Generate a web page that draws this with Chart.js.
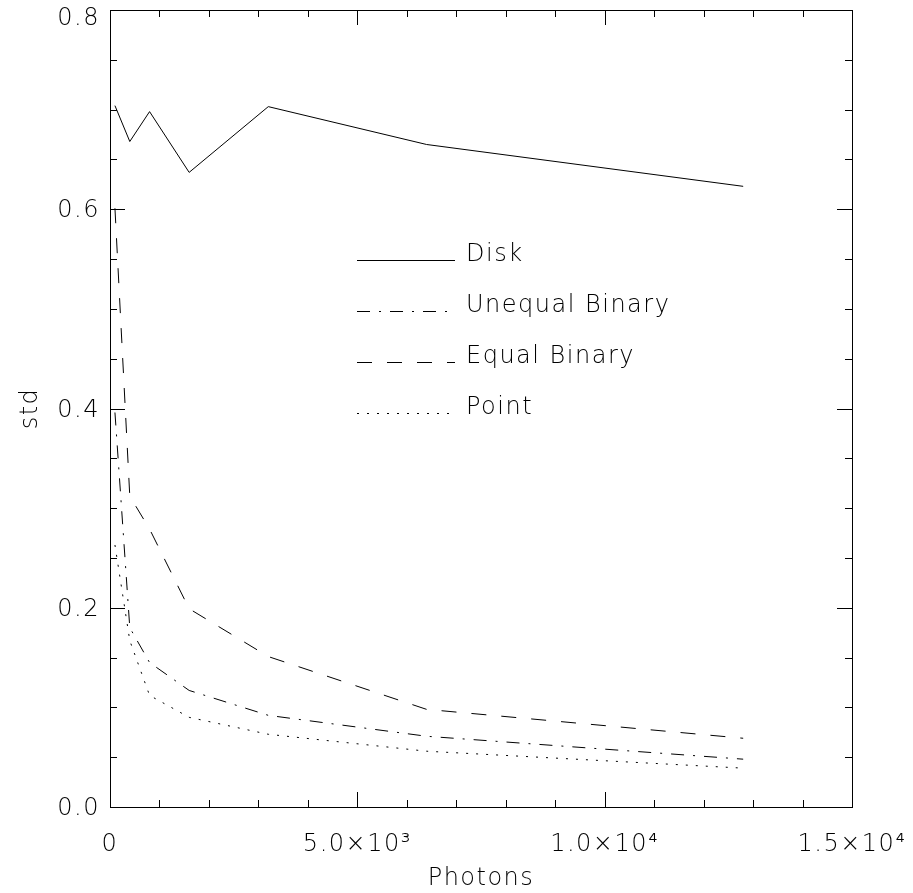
<!DOCTYPE html>
<html>
<head>
<meta charset="utf-8">
<script src="https://cdn.jsdelivr.net/npm/chart.js@4.4.1/dist/chart.umd.min.js"></script>
<style>
  body { margin: 0; background: #fff; }
</style>
</head>
<body>
<canvas id="std-chart" width="913" height="893"></canvas>
<script>
// photon counts and std per source model
const photons = [100, 400, 800, 1600, 3200, 6400, 12800];
const disk = [0.704, 0.668, 0.698, 0.637, 0.703, 0.665, 0.623];
const unequalBinary = [0.396, 0.180, 0.145, 0.117, 0.092, 0.071, 0.048];
const equalBinary = [0.601, 0.312, 0.279, 0.199, 0.151, 0.098, 0.069];
const pointSource = [0.263, 0.167, 0.112, 0.090, 0.073, 0.056, 0.039];

const xTickValues = [0, 5000, 10000, 15000];
const xTickLabels = ['0', '5.0×10³', '1.0×10⁴', '1.5×10⁴'];
const yTickValues = [0, 0.2, 0.4, 0.6, 0.8];
const yTickLabels = ['0.0', '0.2', '0.4', '0.6', '0.8'];

const FONT = '"DejaVu Sans", sans-serif';
const FONT_WEIGHT = 200;
const FONT_SIZE = 24;
const LETTER_SPACING = '1.5px';

Chart.defaults.font.family = FONT;
Chart.defaults.font.size = FONT_SIZE;
Chart.defaults.font.weight = FONT_WEIGHT;
Chart.defaults.color = '#000';

const toPoints = (ys) => photons.map((x, i) => ({ x: x, y: ys[i] }));

const makeDataset = (label, ys, dash) => ({
    label: label,
    data: toPoints(ys),
    borderColor: '#000',
    borderWidth: 1,
    borderDash: dash,
    pointRadius: 0,
    tension: 0,
    fill: false
});

// wider, vector-font-like lettering
const spacingPlugin = {
    id: 'spacing',
    afterInit(chart) { chart.ctx.letterSpacing = LETTER_SPACING; }
};

// nudge y labels down a bit, the top one more so it stays on the canvas
const yLabelPlugin = {
    id: 'yLabelShift',
    beforeDraw(chart) {
        const items = chart.scales.y.getLabelItems(chart.chartArea);
        items.forEach((it) => {
            it.options.translation[1] += (it.label === '0.8') ? 9 : 2;
        });
    }
};

// IDL style box with inward ticks on all four sides
const boxPlugin = {
    id: 'box',
    afterDraw(chart) {
        const { ctx, chartArea: a, scales } = chart;
        const xs = scales.x, ys = scales.y;
        ctx.save();
        ctx.strokeStyle = '#000';
        ctx.lineWidth = 1;
        ctx.strokeRect(Math.round(a.left) + 0.5, Math.round(a.top) + 0.5,
            Math.round(a.right - a.left), Math.round(a.bottom - a.top));
        ctx.beginPath();
        for (let v = 0; v <= 15000; v += 1000) {
            const px = Math.round(xs.getPixelForValue(v)) + 0.5;
            const len = v % 5000 === 0 ? 15 : 7;
            ctx.moveTo(px, a.bottom); ctx.lineTo(px, a.bottom - len);
            ctx.moveTo(px, a.top); ctx.lineTo(px, a.top + len);
        }
        for (let k = 0; k <= 16; k++) {
            const v = k * 0.05;
            const py = Math.round(ys.getPixelForValue(v)) + 0.5;
            const len = k % 4 === 0 ? 15 : 7;
            ctx.moveTo(a.left, py); ctx.lineTo(a.left + len, py);
            ctx.moveTo(a.right, py); ctx.lineTo(a.right - len, py);
        }
        ctx.stroke();
        ctx.restore();
    }
};

// legend drawn inside the plot, line sample then label
const legendPlugin = {
    id: 'insideLegend',
    afterDraw(chart) {
        const { ctx, chartArea: a } = chart;
        const x0 = a.left + 247, x1 = a.left + 345, tx = a.left + 356;
        ctx.save();
        ctx.strokeStyle = '#000';
        ctx.fillStyle = '#000';
        ctx.lineWidth = 1;
        ctx.font = FONT_WEIGHT + ' ' + FONT_SIZE + 'px ' + FONT;
        ctx.textBaseline = 'alphabetic';
        chart.data.datasets.forEach((ds, i) => {
            const y = Math.round(a.top + 250 + i * 51) + 0.5;
            ctx.setLineDash(ds.borderDash || []);
            ctx.beginPath();
            ctx.moveTo(x0, y);
            ctx.lineTo(x1, y);
            ctx.stroke();
            ctx.setLineDash([]);
            ctx.fillText(ds.label, tx, y);
        });
        ctx.restore();
    }
};

const ctx = document.getElementById('std-chart').getContext('2d');
new Chart(ctx, {
    type: 'line',
    data: {
        datasets: [
            makeDataset('Disk', disk, []),
            makeDataset('Unequal Binary', unequalBinary, [13, 9, 2, 9]),
            makeDataset('Equal Binary', equalBinary, [15, 15]),
            makeDataset('Point', pointSource, [2, 8])
        ]
    },
    options: {
        responsive: false,
        animation: false,
        layout: { padding: { top: 10, right: 61, left: 0, bottom: 0 } },
        scales: {
            x: {
                type: 'linear',
                min: 0,
                max: 15000,
                afterFit: (scale) => {
                    scale.height = 86;
                    scale.paddingLeft = 0;
                    scale.paddingRight = 0;
                },
                afterBuildTicks: (scale) => { scale.ticks = xTickValues.map(v => ({ value: v })); },
                grid: { display: false, drawTicks: false },
                border: { display: false },
                ticks: {
                    padding: 23,
                    maxRotation: 0,
                    autoSkip: false,
                    callback: (v) => xTickLabels[xTickValues.indexOf(v)]
                },
                title: { display: true, text: 'Photons', padding: 0 }
            },
            y: {
                type: 'linear',
                min: 0,
                max: 0.8,
                afterFit: (scale) => {
                    scale.width = 110;
                    scale.paddingTop = 0;
                    scale.paddingBottom = 0;
                },
                afterBuildTicks: (scale) => { scale.ticks = yTickValues.map(v => ({ value: v })); },
                grid: { display: false, drawTicks: false },
                border: { display: false },
                ticks: {
                    padding: 10,
                    autoSkip: false,
                    callback: (v) => yTickLabels[yTickValues.indexOf(v)]
                },
                title: { display: true, text: 'std', padding: { top: 16, bottom: 0 } }
            }
        },
        plugins: {
            legend: { display: false },
            tooltip: { enabled: false }
        }
    },
    plugins: [spacingPlugin, yLabelPlugin, boxPlugin, legendPlugin]
});
</script>
</body>
</html>
